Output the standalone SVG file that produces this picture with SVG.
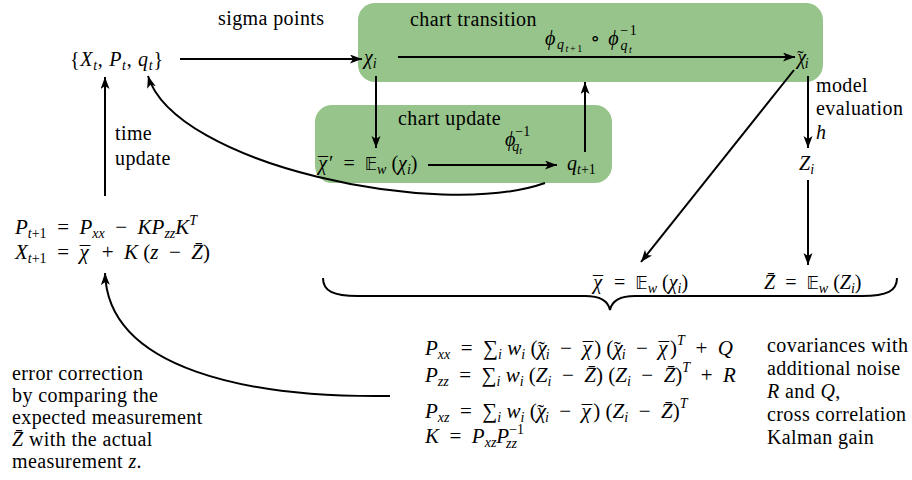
<svg xmlns="http://www.w3.org/2000/svg" width="912" height="480" viewBox="0 0 912 480">
<style>
text{font-family:'Liberation Serif','Times New Roman','DejaVu Serif',serif;font-size:20px;fill:#000}
.w{letter-spacing:0.4px}
.m{font-size:21px}
.i{font-style:italic}
.s{font-size:14px}
.ss{font-size:10px}
.bb{font-family:'DejaVu Sans','DejaVu Serif',sans-serif;font-size:17px;font-style:normal}
.c{fill:none;stroke:#000;stroke-width:2}
.box{fill:#96c48a;stroke:none}
</style>
<defs>
<marker id="ah" markerUnits="userSpaceOnUse" markerWidth="14" markerHeight="10" refX="12" refY="4.5" orient="auto">
<path d="M0,0 L12,4.5 L0,9 L3,4.5 z" fill="#000"/>
</marker>
</defs>

<g id="chart-transition">
<rect class="box" x="358" y="3" width="465" height="79" rx="17"/>
<text class="w" x="410" y="26">chart transition</text>
<text x="545" y="45" textLength="95" lengthAdjust="spacing"><tspan class="i">ϕ</tspan><tspan class="s i" dy="4">q</tspan><tspan class="ss" dy="3"><tspan class="i">t</tspan>+1</tspan><tspan dy="-7"> ∘ </tspan><tspan class="i">ϕ</tspan><tspan class="s" dy="-10">−1</tspan><tspan class="s i" dx="-18" dy="15">q</tspan><tspan class="ss i" dy="3">t</tspan></text>
</g>

<g id="chart-update">
<rect class="box" x="315" y="105" width="297" height="78" rx="17"/>
<text class="w" x="398" y="125">chart update</text>
<text x="505" y="146"><tspan class="i">ϕ</tspan><tspan class="s" dy="-10">−1</tspan><tspan class="s i" dx="-18" dy="15">q</tspan><tspan class="ss i" dy="3">t</tspan></text>
</g>

<g id="state">
<text x="70" y="66" textLength="93" lengthAdjust="spacing">{<tspan class="i">X</tspan><tspan class="s i" dy="4">t</tspan><tspan dy="-4">, </tspan><tspan class="i">P</tspan><tspan class="s i" dy="4">t</tspan><tspan dy="-4">, </tspan><tspan class="i">q</tspan><tspan class="s i" dy="4">t</tspan><tspan dy="-4">}</tspan></text>
</g>

<g id="sigma-label"><text class="w" x="218" y="25">sigma points</text></g>

<g id="chi"><text x="364" y="64"><tspan class="i">χ</tspan><tspan class="s i" dy="4">i</tspan></text></g>
<g id="chi-tilde"><text x="797" y="64"><tspan class="i">χ</tspan><tspan dx="-9" dy="1">˜</tspan><tspan class="s i" dx="1" dy="3">i</tspan></text></g>

<g id="chi-bar-prime">
<text x="318" y="170"><tspan class="i">χ</tspan><tspan dx="-9" dy="2">¯</tspan><tspan dx="1" dy="-2">′&#8194;=&#8194;</tspan><tspan class="bb">𝔼</tspan><tspan class="s i" dy="4">w</tspan><tspan dy="-4"> (</tspan><tspan class="i">χ</tspan><tspan class="s i" dy="4">i</tspan><tspan dy="-4">)</tspan></text>
</g>

<g id="q-next"><text x="567" y="170"><tspan class="i">q</tspan><tspan class="s" dy="4"><tspan class="i">t</tspan>+1</tspan></text></g>

<g id="model-label">
<text class="w" x="816" y="92">model</text>
<text class="w" x="816" y="115">evaluation</text>
<text x="816" y="139" class="i">h</text>
</g>

<g id="Zi"><text x="799" y="170"><tspan class="i">Z</tspan><tspan class="s i" dy="4">i</tspan></text></g>

<g id="chi-bar">
<text x="593" y="289"><tspan class="i">χ</tspan><tspan dx="-9" dy="2">¯</tspan><tspan dx="1" dy="-2">&#8194;=&#8194;</tspan><tspan class="bb">𝔼</tspan><tspan class="s i" dy="4">w</tspan><tspan dy="-4"> (</tspan><tspan class="i">χ</tspan><tspan class="s i" dy="4">i</tspan><tspan dy="-4">)</tspan></text>
</g>
<g id="Z-bar">
<text x="764" y="289"><tspan class="i">Z̄</tspan>&#8194;=&#8194;<tspan class="bb">𝔼</tspan><tspan class="s i" dy="4">w</tspan><tspan dy="-4"> (</tspan><tspan class="i">Z</tspan><tspan class="s i" dy="4">i</tspan><tspan dy="-4">)</tspan></text>
</g>

<g id="update-eqs">
<text class="m" x="15" y="234"><tspan class="i">P</tspan><tspan class="s" dy="4"><tspan class="i">t</tspan>+1</tspan><tspan dy="-4">&#8194;=&#8194;</tspan><tspan class="i">P</tspan><tspan class="s i" dy="4">xx</tspan><tspan dy="-4">&#8194;−&#8194;</tspan><tspan class="i">KP</tspan><tspan class="s i" dy="4">zz</tspan><tspan class="i" dy="-4">K</tspan><tspan class="s i" dy="-9">T</tspan></text>
<text class="m" x="15" y="259"><tspan class="i">X</tspan><tspan class="s" dy="4"><tspan class="i">t</tspan>+1</tspan><tspan dy="-4">&#8194;=&#8194;</tspan><tspan class="i">χ</tspan><tspan dx="-9" dy="2">¯</tspan><tspan dx="1" dy="-2">&#8194;+&#8194;</tspan><tspan class="i">K</tspan> (<tspan class="i">z</tspan>&#8194;−&#8194;<tspan class="i">Z̄</tspan>)</text>
</g>

<g id="time-update-label">
<text class="w" x="115" y="140">time</text>
<text class="w" x="115" y="165">update</text>
</g>

<g id="cov-eqs">
<text class="m" x="425" y="355"><tspan class="i">P</tspan><tspan class="s i" dy="4">xx</tspan><tspan dy="-4">&#8194;=&#8194;∑</tspan><tspan class="s i" dy="4">i</tspan><tspan class="i" dy="-4"> w</tspan><tspan class="s i" dy="4">i</tspan><tspan dy="-4"> (</tspan><tspan class="i">χ</tspan><tspan dx="-9" dy="1">˜</tspan><tspan class="s i" dx="1" dy="3">i</tspan><tspan dy="-4">&#8194;−&#8194;</tspan><tspan class="i">χ</tspan><tspan dx="-9" dy="2">¯</tspan><tspan dx="1" dy="-2">) (</tspan><tspan class="i">χ</tspan><tspan dx="-9" dy="1">˜</tspan><tspan class="s i" dx="1" dy="3">i</tspan><tspan dy="-4">&#8194;−&#8194;</tspan><tspan class="i">χ</tspan><tspan dx="-9" dy="2">¯</tspan><tspan dx="1" dy="-2">)</tspan><tspan class="s i" dy="-10">T</tspan><tspan dy="10">&#8194;+&#8194;</tspan><tspan class="i">Q</tspan></text>
<text class="m" x="425" y="382"><tspan class="i">P</tspan><tspan class="s i" dy="4">zz</tspan><tspan dy="-4">&#8194;=&#8194;∑</tspan><tspan class="s i" dy="4">i</tspan><tspan class="i" dy="-4"> w</tspan><tspan class="s i" dy="4">i</tspan><tspan dy="-4"> (</tspan><tspan class="i">Z</tspan><tspan class="s i" dy="4">i</tspan><tspan dy="-4">&#8194;−&#8194;</tspan><tspan class="i">Z̄</tspan>) (<tspan class="i">Z</tspan><tspan class="s i" dy="4">i</tspan><tspan dy="-4">&#8194;−&#8194;</tspan><tspan class="i">Z̄</tspan>)<tspan class="s i" dy="-10">T</tspan><tspan dy="10">&#8194;+&#8194;</tspan><tspan class="i">R</tspan></text>
<text class="m" x="425" y="418"><tspan class="i">P</tspan><tspan class="s i" dy="4">xz</tspan><tspan dy="-4">&#8194;=&#8194;∑</tspan><tspan class="s i" dy="4">i</tspan><tspan class="i" dy="-4"> w</tspan><tspan class="s i" dy="4">i</tspan><tspan dy="-4"> (</tspan><tspan class="i">χ</tspan><tspan dx="-9" dy="1">˜</tspan><tspan class="s i" dx="1" dy="3">i</tspan><tspan dy="-4">&#8194;−&#8194;</tspan><tspan class="i">χ</tspan><tspan dx="-9" dy="2">¯</tspan><tspan dx="1" dy="-2">) (</tspan><tspan class="i">Z</tspan><tspan class="s i" dy="4">i</tspan><tspan dy="-4">&#8194;−&#8194;</tspan><tspan class="i">Z̄</tspan>)<tspan class="s i" dy="-10">T</tspan></text>
<text class="m" x="425" y="443"><tspan class="i">K</tspan>&#8194;=&#8194;<tspan class="i">P</tspan><tspan class="s i" dy="4">xz</tspan><tspan class="i" dy="-4">P</tspan><tspan class="s" dy="-9">−1</tspan><tspan class="s i" dx="-18" dy="14">zz</tspan></text>
</g>

<g id="cov-notes">
<text class="w" x="767" y="352">covariances with</text>
<text class="w" x="767" y="375">additional noise</text>
<text class="w" x="767" y="398"><tspan class="i">R</tspan> and <tspan class="i">Q</tspan>,</text>
<text class="w" x="767" y="421">cross correlation</text>
<text class="w" x="767" y="444">Kalman gain</text>
</g>

<g id="error-notes">
<text class="w" x="12" y="380">error correction</text>
<text class="w" x="12" y="402">by comparing the</text>
<text class="w" x="12" y="424">expected measurement</text>
<text class="w" x="12" y="446"><tspan class="i">Z̄</tspan> with the actual</text>
<text class="w" x="12" y="468">measurement <tspan class="i">z</tspan>.</text>
</g>

<g id="brace">
<path class="c" d="M323,278 C323,291 333,296 358,296 L585,296 C600,296 608,300 610,310 C612,300 620,296 635,296 L862,296 C887,296 897,291 897,278"/>
</g>

<g id="connectors">
<path class="c" d="M180,59 L362,59" marker-end="url(#ah)"/>
<path class="c" d="M398,57 L795,57" marker-end="url(#ah)"/>
<path class="c" d="M376,76 L376,148" marker-end="url(#ah)"/>
<path class="c" d="M428,165 L557,165" marker-end="url(#ah)"/>
<path class="c" d="M585,152 L585,82" marker-end="url(#ah)"/>
<path class="c" d="M808,76 L808,148" marker-end="url(#ah)"/>
<path class="c" d="M794,70 L641,262" marker-end="url(#ah)"/>
<path class="c" d="M808,180 L808,265" marker-end="url(#ah)"/>
<path class="c" d="M545,183 C440,220 175,165 148,76" marker-end="url(#ah)"/>
<path class="c" d="M105,196 L105,77" marker-end="url(#ah)"/>
<path class="c" d="M390,396 C250,398 108,370 105,273" marker-end="url(#ah)"/>
</g>
</svg>
